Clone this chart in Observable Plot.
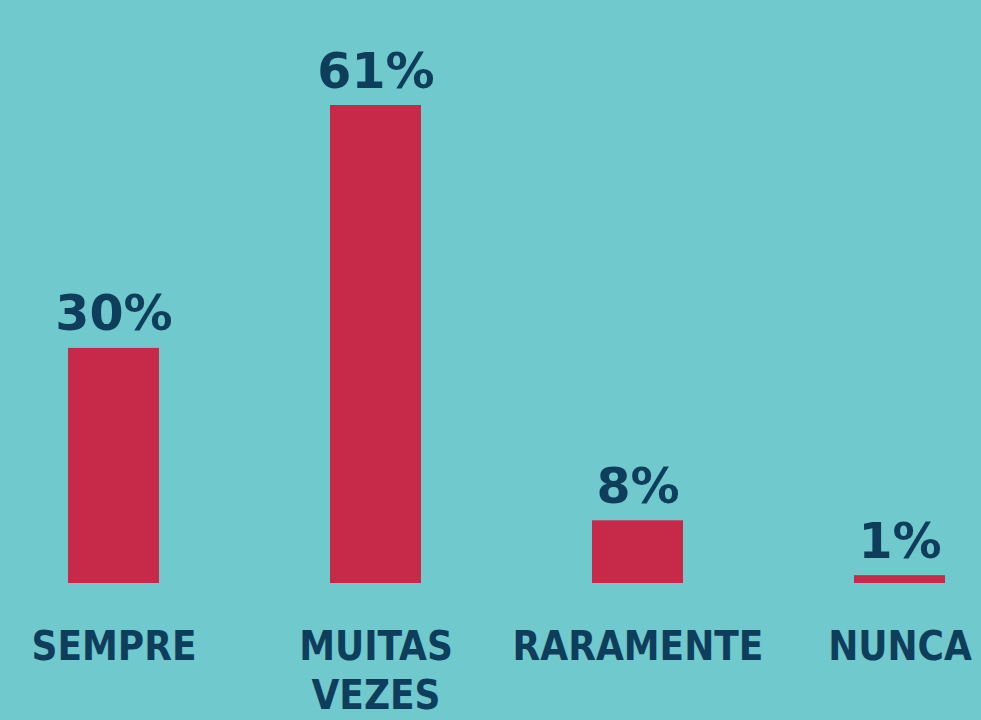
<!DOCTYPE html>
<html>
<head>
<meta charset="utf-8">
<script src="https://cdn.jsdelivr.net/npm/d3@7"></script>
<script src="https://cdn.jsdelivr.net/npm/@observablehq/plot@0.6"></script>
<style>
  html, body { margin: 0; padding: 0; background: #6fc9cd; }
  #chart svg { display: block; }
</style>
</head>
<body>
<div id="chart"></div>
<script>
const categories = ["SEMPRE", "MUITAS VEZES", "RARAMENTE", "NUNCA"];
const tickLabels = ["SEMPRE", "MUITAS\nVEZES", "RARAMENTE", "NUNCA"];
const values = [30, 61, 8, 1];

const data = categories.map((c, i) => ({category: c, value: values[i]}));
const labelOf = new Map(categories.map((c, i) => [c, tickLabels[i]]));

const ink = "#0f3d5c";
const chart = Plot.plot({
  width: 981,
  height: 720,
  marginLeft: 67,
  marginRight: 35,
  marginTop: 105,
  marginBottom: 137,
  style: {background: "#6fc9cd", fontFamily: "'DejaVu Sans', sans-serif"},
  x: {domain: categories, paddingInner: 0.653, paddingOuter: 0},
  y: {domain: [0, 61], axis: null},
  marks: [
    Plot.barY(data, {x: "category", y: "value", fill: "#c62a48"}),
    Plot.text(data, {
      x: "category", y: "value", text: d => d.value + "%",
      lineAnchor: "bottom", dy: -18, fill: ink,
      fontSize: 49, fontWeight: "bold", fontFamily: "'DejaVu Sans', sans-serif"
    }),
    Plot.axisX({
      tickSize: 0, tickPadding: 41, label: null,
      tickFormat: d => labelOf.get(d),
      fontSize: 40, fontWeight: "bold", lineHeight: 1.24,
      fontFamily: "'DejaVu Sans Condensed', 'DejaVu Sans', sans-serif",
      fill: ink, color: ink
    })
  ]
});
document.getElementById("chart").append(chart);
</script>
</body>
</html>
